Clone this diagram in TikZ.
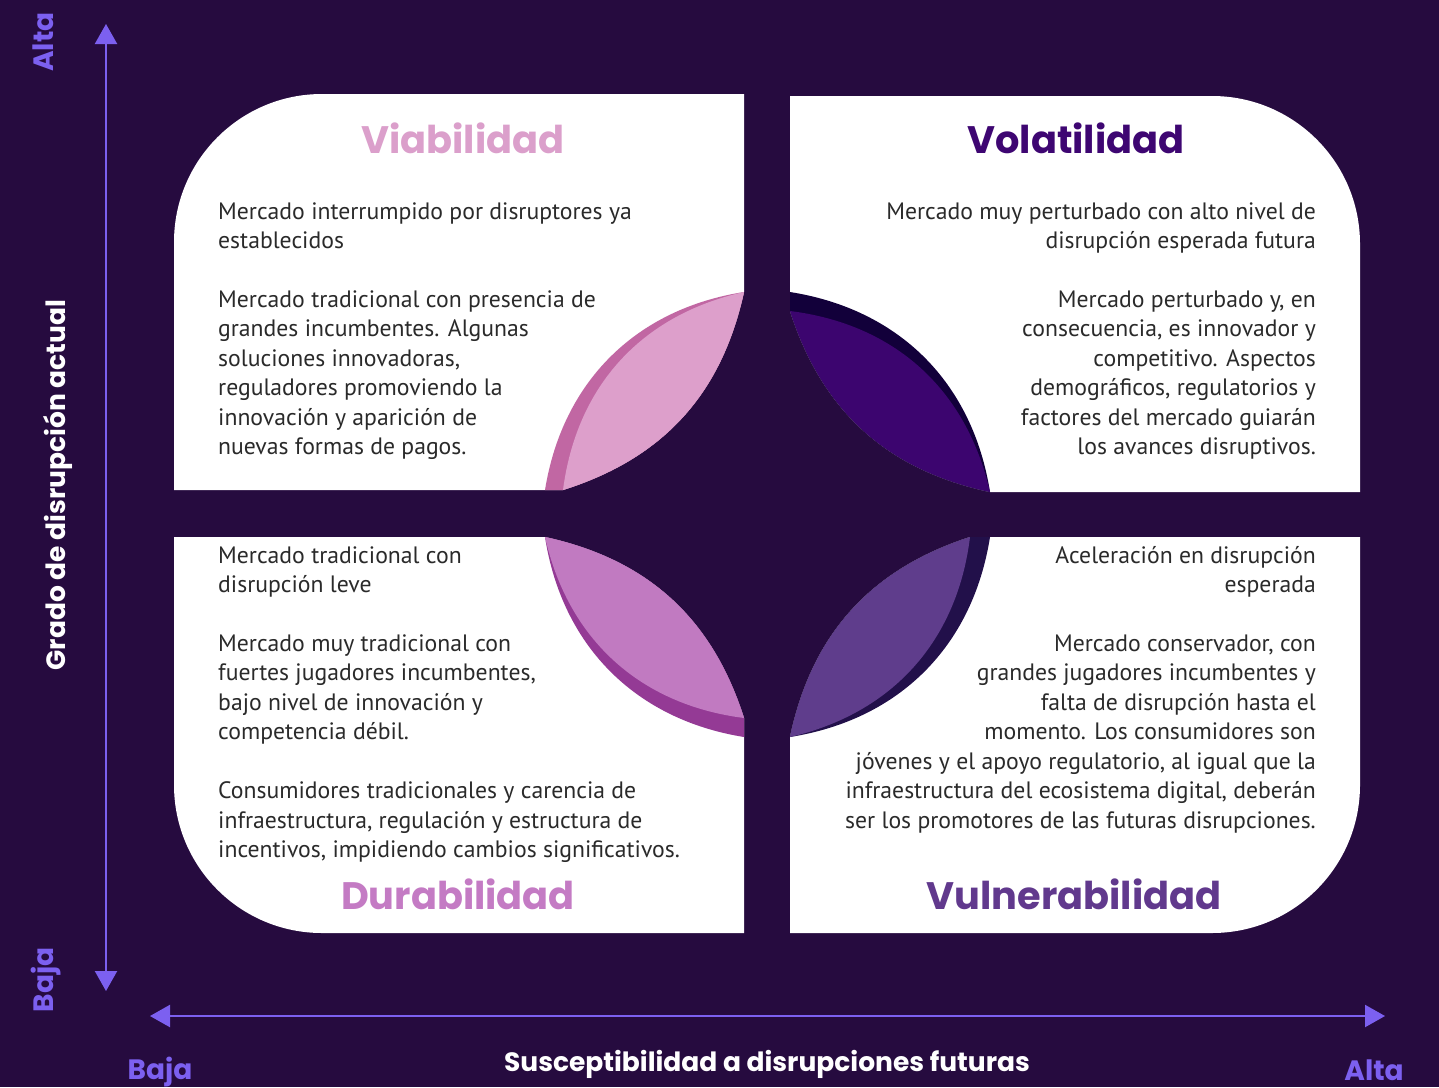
\documentclass[tikz,border=0pt]{standalone}
\usepackage{fontspec}
\setmainfont{PT Sans}
\newfontfamily\headfont{Poppins}
\usetikzlibrary{arrows.meta}
\definecolor{bg}{HTML}{260B3F}
\definecolor{bodytext}{HTML}{2A2A2A}
\definecolor{axiscol}{HTML}{7C60F0}
\definecolor{tlLight}{HTML}{DD9FCB}
\definecolor{tlDark}{HTML}{C167A3}
\definecolor{trLight}{HTML}{3C056F}
\definecolor{trDark}{HTML}{12003A}
\definecolor{blLight}{HTML}{C17AC1}
\definecolor{blDark}{HTML}{943A95}
\definecolor{brLight}{HTML}{5F3D8C}
\definecolor{brDark}{HTML}{22104A}
\definecolor{tViab}{HTML}{DB9FCB}
\definecolor{tVola}{HTML}{3E0672}
\definecolor{tDura}{HTML}{C47BC4}
\definecolor{tVuln}{HTML}{61398D}
\newcommand\bodylines[5]{%
  \foreach \n/\t in {#5} {%
    \node[body,anchor=base #4] (#1-\n) at (#2,{-#3-(\n-1)*29.45}) {\t};
  }%
}
\begin{document}
\begin{tikzpicture}[x=1pt,y=1pt,
  body/.style={font=\fontsize{23.7}{29}\selectfont, text=bodytext, inner sep=0pt},
  titlelab/.style={font=\headfont\bfseries\fontsize{38.3}{40}\selectfont, inner sep=0pt},
  axlab/.style={font=\headfont\bfseries\fontsize{28}{30}\selectfont, text=axiscol, inner sep=0pt},
  axtitle/.style={font=\headfont\bfseries\fontsize{26.5}{28}\selectfont, text=white, inner sep=0pt},
  axisline/.style={draw=axiscol, line width=2.2pt, arrows={Triangle[length=20pt,width=22pt]-Triangle[length=20pt,width=22pt]}}
]
\fill[bg] (0,0) rectangle (1439,-1087);
\useasboundingbox (0,0) rectangle (1439,-1087);

% panels
\fill[white] (744,-94) -- (744,-292) to[bend left=30] (563,-490) -- (174,-490) -- (174,-242) .. controls (174,-160.3) and (240.3,-94) .. (322,-94) -- cycle;
\fill[white] (990,-492) -- (1360,-492) -- (1360,-244) .. controls (1360,-162.3) and (1293.7,-96) .. (1212,-96) -- (790,-96) -- (790,-311) to[bend right=30] (990,-492) -- cycle;
\fill[white] (174,-537) -- (545,-537) to[bend left=30] (744,-718) -- (744,-933) -- (322,-933) .. controls (240.3,-933) and (174,-866.7) .. (174,-785) -- cycle;
\fill[white] (970,-537) -- (1360,-537) -- (1360,-785) .. controls (1360,-866.7) and (1293.7,-933) .. (1212,-933) -- (790,-933) -- (790,-737) to[bend left=30] (970,-537) -- cycle;

% petals
\fill[tlDark] (744,-292) to[bend right=36] (545,-490) -- (563,-490) to[bend right=30] (744,-292) -- cycle;
\fill[tlLight] (744,-292) to[bend right=35] (563,-490) to[bend right=30] (744,-292) -- cycle;
\fill[trDark] (790,-292) to[bend left=36] (990,-492) to[bend left=30] (790,-311) -- cycle;
\fill[trLight] (790,-311) to[bend left=35] (990,-492) to[bend left=30] (790,-311) -- cycle;
\fill[blDark] (545,-537) to[bend right=36] (744,-737) -- (744,-718) to[bend right=30] (545,-537) -- cycle;
\fill[blLight] (545,-537) to[bend right=35] (744,-718) to[bend right=30] (545,-537) -- cycle;
\fill[brDark] (990,-537) to[bend left=36] (790,-737) to[bend left=30] (970,-537) -- cycle;
\fill[brLight] (970,-537) to[bend left=35] (790,-737) to[bend left=30] (970,-537) -- cycle;

% titles
\node[titlelab, text=tViab, anchor=base] (tiViab) at (463,-153) {Viabilidad};
\node[titlelab, text=tVola, anchor=base] (tiVola) at (1076,-153) {Volatilidad};
\node[titlelab, text=tDura, anchor=base] (tiDura) at (458,-909) {Durabilidad};
\node[titlelab, text=tVuln, anchor=base] (tiVuln) at (1074,-909) {Vulnerabilidad};

% body texts
\bodylines{tl}{218}{219}{west}{1/Mercado interrumpido por disruptores ya, 2/establecidos, 4/Mercado tradicional con presencia de, 5/grandes incumbentes. Algunas, 6/{soluciones innovadoras,}, 7/reguladores promoviendo la, 8/innovación y aparición de, 9/nuevas formas de pagos.}
\bodylines{tr}{1316}{219}{east}{1/Mercado muy perturbado con alto nivel de, 2/disrupción esperada futura, 4/{Mercado perturbado y, en}, 5/{consecuencia, es innovador y}, 6/competitivo. Aspectos, 7/{demográficos, regulatorios y}, 8/factores del mercado guiarán, 9/los avances disruptivos.}
\bodylines{bl}{218}{563}{west}{1/Mercado tradicional con, 2/disrupción leve, 4/Mercado muy tradicional con, 5/{fuertes jugadores incumbentes,}, 6/bajo nivel de innovación y, 7/competencia débil., 9/Consumidores tradicionales y carencia de, 10/{infraestructura, regulación y estructura de}, 11/{incentivos, impidiendo cambios significativos.}}
\bodylines{br}{1316}{563}{east}{1/Aceleración en disrupción, 2/esperada, 4/{Mercado conservador, con}, 5/grandes jugadores incumbentes y, 6/falta de disrupción hasta el, 7/momento. Los consumidores son, 8/{jóvenes y el apoyo regulatorio, al igual que la}, 9/{infraestructura del ecosistema digital, deberán}, 10/ser los promotores de las futuras disrupciones.}

% axes
\coordinate (yTop) at (106,-24);
\coordinate (yBot) at (106,-991);
\coordinate (xL) at (150,-1016);
\coordinate (xR) at (1385,-1016);
\draw[axisline] (yBot) -- (yTop);
\draw[axisline] (xL) -- (xR);

\node[axlab, rotate=90, anchor=base] (altaY) at (53,-42) {Alta};
\node[axlab, rotate=90, anchor=base] (bajaY) at (53,-980) {Baja};
\node[axlab, anchor=base] (bajaX) at (160,-1079) {Baja};
\node[axlab, anchor=base] (altaX) at (1374,-1080) {Alta};
\node[axtitle, rotate=90, anchor=base] (ytitle) at (65,-485) {Grado de disrupción actual};
\node[axtitle, anchor=base] (xtitle) at (767,-1071) {Susceptibilidad a disrupciones futuras};
\end{tikzpicture}
\end{document}
